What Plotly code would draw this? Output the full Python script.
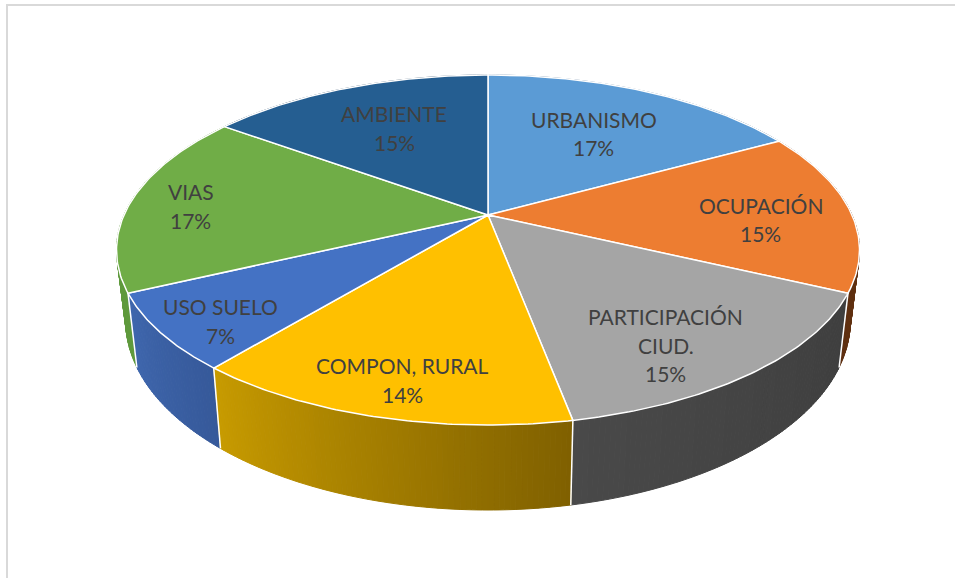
import numpy as np
import plotly.graph_objects as go

categories = ["URBANISMO", "OCUPACIÓN", "PARTICIPACIÓN<br>CIUD.", "COMPON, RURAL", "USO SUELO", "VIAS", "AMBIENTE"]
values = [17, 15, 15, 14, 7, 17, 15]

top_colors = ["#5B9BD5", "#ED7D31", "#A5A5A5", "#FFC000", "#4472C4", "#70AD47", "#255E91"]
wall_start = [(60, 100, 140), (110, 56, 18), (62, 62, 62), (127, 96, 0), (54, 89, 154), (95, 154, 61), (22, 56, 87)]
wall_end = [(55, 93, 128), (94, 47, 16), (73, 73, 73), (200, 155, 0), (63, 103, 174), (95, 154, 61), (22, 56, 87)]
# label placement: radial anchor plus pixel nudge
label_shift = [(-10, 9), (19, 8), (2, 26), (-12, 33), (-47, 27), (-47, 2), (9, 6)]

CX, CY, BX, AY, P = 488, 215, 364, 168, 0.2
LABEL_R = 0.7
LINE_GAP = 28.5
DEPTH = 68
INSET = 9


def project(theta, r=1.0):
    u, v = r * np.sin(theta), r * np.cos(theta)
    w = 1 + P * v
    return CX + BX * u / w, CY - AY * v / w


def project_low(theta):
    u, v = np.sin(theta), np.cos(theta)
    w = 1 + P * v
    return CX + (BX - INSET) * u / w, CY - AY * v / w + DEPTH / w


total = sum(values)
edges = 2 * np.pi * np.cumsum([0] + values) / total
fig = go.Figure()

# side wall strips, back to front
strips = []
for i in range(len(values)):
    n = max(2, int(values[i] * 5))
    ts = np.linspace(edges[i], edges[i + 1], n + 1)
    for j in range(n):
        f = (j + 0.5) / n
        col = [round(a + (b - a) * f) for a, b in zip(wall_start[i], wall_end[i])]
        strips.append((np.cos((ts[j] + ts[j + 1]) / 2), ts[j], ts[j + 1], f"rgb({col[0]},{col[1]},{col[2]})"))
strips.sort(key=lambda s: -s[0])
for _, t0, t1, col in strips:
    tt = np.linspace(t0, t1, 4)
    x1, y1 = project(tt)
    x2, y2 = project_low(tt[::-1])
    fig.add_trace(go.Scatter(x=np.r_[x1, x2, x1[0]], y=np.r_[y1, y2, y1[0]], mode="lines",
                             fill="toself", fillcolor=col, line=dict(color=col, width=1),
                             hoverinfo="skip", showlegend=False))

# white separators on the wall
for e in edges[:-1]:
    if np.cos(e) < 0:
        x1, y1 = project(e)
        x2, y2 = project_low(e)
        fig.add_trace(go.Scatter(x=[x1, x2], y=[y1, y2], mode="lines", line=dict(color="white", width=1.5),
                                 hoverinfo="skip", showlegend=False))

# top faces
for i in range(len(values)):
    tt = np.linspace(edges[i], edges[i + 1], 80)
    x, y = project(tt)
    fig.add_trace(go.Scatter(x=np.r_[CX, x, CX], y=np.r_[CY, y, CY], mode="lines", fill="toself",
                             fillcolor=top_colors[i], line=dict(color="white", width=1.5),
                             hoverinfo="skip", showlegend=False))

# labels: one annotation per line for exact leading
annotations = []
for i, name in enumerate(categories):
    mid = (edges[i] + edges[i + 1]) / 2
    lx, ly = project(mid, LABEL_R)
    pct = round(100 * values[i] / total)
    lines = name.split("<br>") + [f"{pct}%"]
    for k, line in enumerate(lines):
        off = (k - (len(lines) - 1) / 2) * LINE_GAP
        annotations.append(dict(x=lx, y=ly, xshift=label_shift[i][0], yshift=-(label_shift[i][1] + off),
                                text=line, showarrow=False, xanchor="center", yanchor="middle",
                                font=dict(family="Lato", size=21, color="#404040")))

fig.update_layout(
    width=955, height=578, autosize=False,
    margin=dict(l=0, r=0, t=0, b=0),
    paper_bgcolor="white", plot_bgcolor="white",
    xaxis=dict(range=[0, 955], visible=False, fixedrange=True),
    yaxis=dict(range=[578, 0], visible=False, fixedrange=True),
    annotations=annotations,
    shapes=[dict(type="path", path="M 7 578 L 7 5 L 955 5", line=dict(color="#D9D9D9", width=2), layer="below")],
)
fig.write_html("out.html", config={"displayModeBar": False},
               post_script="document.body.style.margin='0';document.body.style.overflow='hidden';")
